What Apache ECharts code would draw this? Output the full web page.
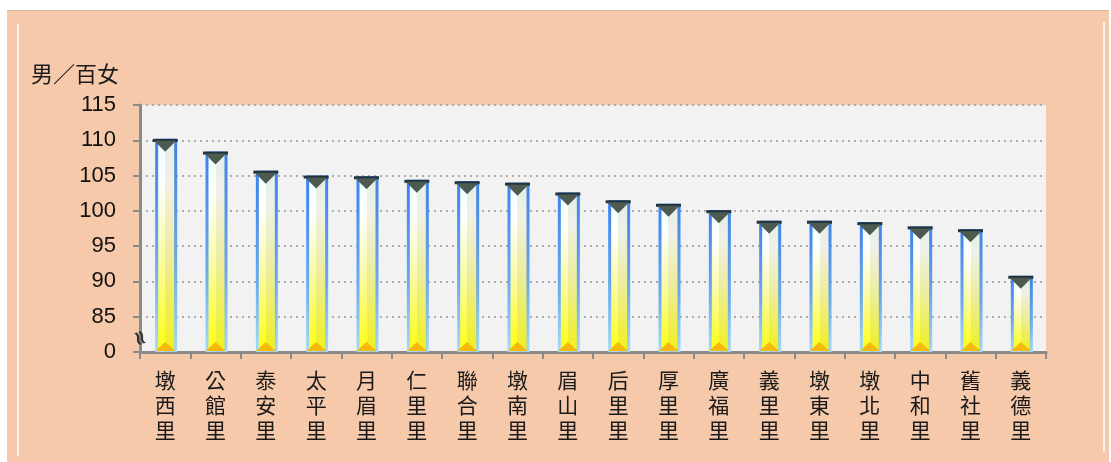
<!DOCTYPE html>
<html>
<head>
<meta charset="utf-8">
<script src="https://cdn.jsdelivr.net/npm/echarts@6/dist/echarts.min.js"></script>
<style>
html, body { margin: 0; padding: 0; background: #fff; }
#frame { position: absolute; left: 7px; top: 10px; width: 1102px; height: 452px; background: #f5c9a9; border-top: 1px solid #d6b69f; }
#lineL { position: absolute; left: 17px; top: 24px; width: 2px; height: 432px; background: #fdf3ec; }
#lineR { position: absolute; left: 1103px; top: 22px; width: 2px; height: 430px; background: #fdf3ec; }
#main { position: absolute; left: 0; top: 0; width: 1111px; height: 462px; }
</style>
</head>
<body>
<div id="frame"></div>
<div id="lineL"></div>
<div id="lineR"></div>
<div id="main"></div>
<script>
// 各里性比例（男/百女）
var villages = ["墩西里", "公館里", "泰安里", "太平里", "月眉里", "仁里里", "聯合里", "墩南里", "眉山里",
  "后里里", "厚里里", "廣福里", "義里里", "墩東里", "墩北里", "中和里", "舊社里", "義德里"];
var ratios = [110.2, 108.4, 105.7, 105.0, 104.9, 104.4, 104.2, 104.0, 102.6,
  101.5, 101.0, 100.1, 98.6, 98.6, 98.4, 97.8, 97.4, 90.8];
// 軸從 80 起畫，但標成 0（中間有截斷符號）
var axisMin = 80;
var axisMax = 115;
var axisStep = 5;
var breakAt = 82.5;

var myChart = echarts.init(document.getElementById("main"));

var barFill = new echarts.graphic.LinearGradient(0, 0, 0, 1, [
  { offset: 0, color: "#eefeff" },
  { offset: 0.2, color: "#ffffff" },
  { offset: 0.55, color: "#fbfba8" },
  { offset: 1, color: "#ffff10" }
]);
var barBorder = new echarts.graphic.LinearGradient(0, 0, 0, 1, [
  { offset: 0, color: "#3a82ee" },
  { offset: 0.6, color: "#6aaaf0" },
  { offset: 1, color: "#a6dcf6" }
]);
// 右半邊稍暗
var rightShade = new echarts.graphic.LinearGradient(0, 0, 1, 0, [
  { offset: 0, color: "rgba(0,0,0,0)" },
  { offset: 0.5, color: "rgba(0,0,0,0)" },
  { offset: 0.5, color: "rgba(150,150,90,0.14)" },
  { offset: 1, color: "rgba(150,150,90,0.14)" }
]);

myChart.setOption({
  backgroundColor: "transparent",
  animation: false,
  grid: {
    left: 140,
    right: 65,
    top: 105,
    bottom: 110,
    show: true,
    backgroundColor: "#f2f2f2",
    borderWidth: 0
  },
  xAxis: {
    type: "category",
    data: villages,
    axisLine: { lineStyle: { color: "#8a8a8a", width: 3 } },
    axisTick: { show: true, length: 7, lineStyle: { color: "#8a8a8a", width: 2 } },
    axisLabel: {
      margin: 16,
      fontSize: 21,
      lineHeight: 25,
      color: "#1a1a1a",
      fontFamily: "Noto Sans CJK TC",
      formatter: function (v) { return v.split("").join("\n"); }
    }
  },
  yAxis: {
    type: "value",
    min: axisMin,
    max: axisMax,
    interval: axisStep,
    startValue: axisMin,
    name: "男／百女",
    nameLocation: "end",
    nameGap: 20,
    nameTextStyle: {
      align: "right",
      padding: [0, 21, 0, 0],
      fontSize: 22,
      color: "#1a1a1a",
      fontFamily: "Noto Sans CJK TC"
    },
    axisLine: { show: true, lineStyle: { color: "#8a8a8a", width: 3 } },
    axisTick: { show: true, length: 7, lineStyle: { color: "#8a8a8a", width: 2 } },
    axisLabel: {
      margin: 24,
      fontSize: 22,
      color: "#111",
      fontFamily: "Liberation Sans",
      formatter: function (v) { return v === axisMin ? "0" : String(v); }
    },
    splitLine: { show: true, lineStyle: { color: "#acacac", width: 2, type: [2, 4] } }
  },
  series: [
    {
      name: "性比例",
      type: "bar",
      data: ratios,
      barWidth: 22,
      itemStyle: { color: barFill, borderColor: barBorder, borderWidth: 3 },
      z: 2
    },
    {
      type: "bar",
      data: ratios,
      barWidth: 20,
      barGap: "-100%",
      silent: true,
      itemStyle: { color: rightShade },
      z: 3
    },
    {
      type: "pictorialBar",
      data: ratios,
      symbol: "rect",
      symbolSize: [25, 3],
      symbolPosition: "end",
      itemStyle: { color: "#1c3340" },
      barGap: "-100%",
      z: 5
    },
    {
      type: "pictorialBar",
      data: ratios,
      symbol: "triangle",
      symbolRotate: 180,
      symbolSize: [22, 11],
      symbolPosition: "end",
      symbolOffset: [0, 2],
      itemStyle: { color: "#4d5a4f" },
      barGap: "-100%",
      z: 6
    },
    {
      type: "pictorialBar",
      data: ratios,
      symbol: "triangle",
      symbolSize: [20, 9],
      symbolPosition: "start",
      symbolOffset: [0, -1],
      itemStyle: { color: "#f7b90a" },
      barGap: "-100%",
      z: 6
    }
  ]
});

// 截斷符號
var bp = myChart.convertToPixel({ yAxisIndex: 0 }, breakAt);
myChart.setOption({
  graphic: [{
    type: "text",
    x: 139,
    y: bp + 4,
    rotation: -Math.PI * 0.4,
    z: 100,
    style: { text: "≈", fontSize: 20, fontWeight: "bold", fill: "#333", align: "center", verticalAlign: "middle", fontFamily: "DejaVu Sans" }
  }]
});
</script>
</body>
</html>
